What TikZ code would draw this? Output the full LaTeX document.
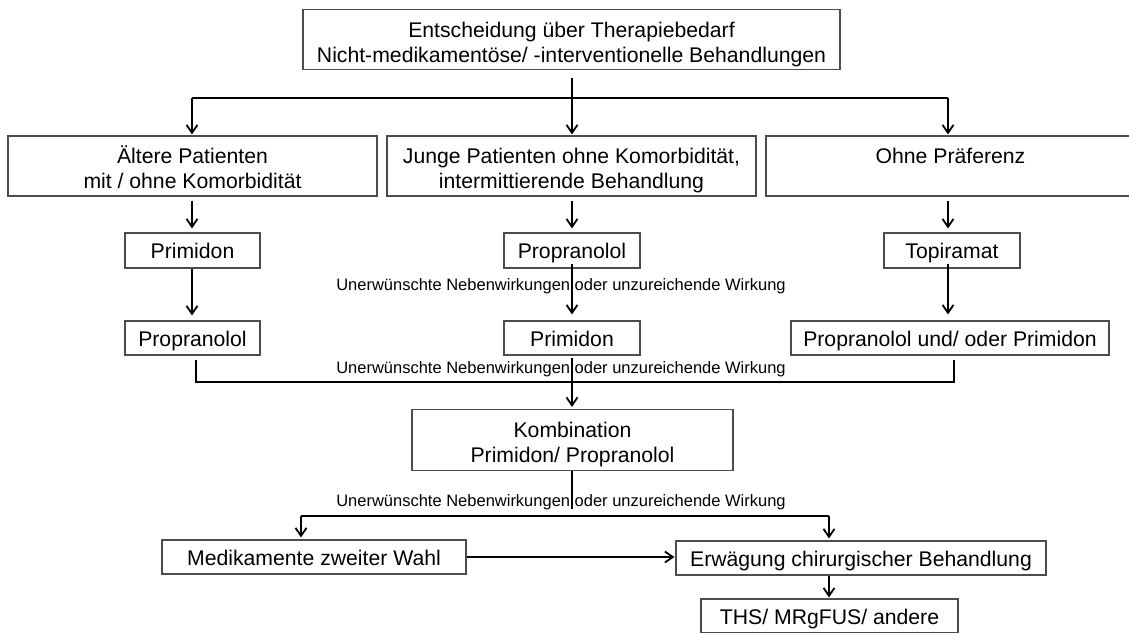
\documentclass[tikz,border=0pt]{standalone}
\usepackage{fontspec}
\setmainfont{Liberation Sans}
\usetikzlibrary{arrows.meta}
\newcommand\upstrut{\rule{0pt}{25.5pt}}
\newcommand\dnstrut{\rule[-5pt]{0pt}{5pt}}
\begin{document}
\begin{tikzpicture}[x=1pt,y=-1pt,
  box/.style={draw=black!70,line width=1.1pt,inner sep=0pt,align=center,
    font=\fontsize{21.2}{25}\selectfont,text=black},
  one/.style={text height=16.5pt,text depth=0pt},
  arr/.style={line width=2pt,-{Straight Barb[length=8pt,width=11pt,line width=1.8pt]}},
  ln/.style={line width=2pt},
  lbl/.style={font=\fontsize{16.5}{18}\selectfont,inner sep=0pt}]
\useasboundingbox[fill=white] (0,0) rectangle (1129,632);
% boxes
\node[box,minimum width=537pt,minimum height=60pt] (top) at (571.5,39.5)
  {\upstrut Entscheidung über Therapiebedarf\\Nicht-medikamentöse/ -interventionelle Behandlungen\dnstrut};
\node[box,minimum width=369pt,minimum height=60pt] (ra) at (192.5,166)
  {\upstrut Ältere Patienten\\mit / ohne Komorbidität\dnstrut};
\node[box,minimum width=369pt,minimum height=60pt] (rb) at (571.5,166)
  {\upstrut Junge Patienten ohne Komorbidität,\\intermittierende Behandlung\dnstrut};
\node[box,minimum width=369pt,minimum height=60pt] (rc) at (950.5,166)
  {\upstrut Ohne Präferenz\\\dnstrut};
\node[box,one,minimum width=135pt,minimum height=35pt] (pa) at (192.5,250.5) {Primidon};
\node[box,one,minimum width=136pt,minimum height=35pt] (pb) at (572,250.5) {Propranolol};
\node[box,one,minimum width=136pt,minimum height=35pt] (pc) at (952,250.5) {Topiramat};
\node[box,one,minimum width=135pt,minimum height=34pt] (qa) at (192.5,338) {Propranolol};
\node[box,one,minimum width=136pt,minimum height=34pt] (qb) at (572,338) {Primidon};
\node[box,one,minimum width=318pt,minimum height=34pt] (qc) at (950,338) {Propranolol und/ oder Primidon};
\node[box,minimum width=321pt,minimum height=61pt] (ko) at (572.5,440)
  {\upstrut Kombination\\Primidon/ Propranolol\dnstrut};
\node[box,one,minimum width=304pt,minimum height=34pt] (me) at (314,557) {Medikamente zweiter Wahl};
\node[box,one,minimum width=370pt,minimum height=34pt] (er) at (861,558) {Erwägung chirurgischer Behandlung};
\node[box,one,minimum width=257pt,minimum height=34pt] (th) at (829.5,616) {THS/ MRgFUS/ andere};
% labels
\node[lbl] (l1) at (561,286) {Unerwünschte Nebenwirkungen oder unzureichende Wirkung};
\node[lbl] (l2) at (561,369) {Unerwünschte Nebenwirkungen oder unzureichende Wirkung};
\node[lbl] (l3) at (561,502) {Unerwünschte Nebenwirkungen oder unzureichende Wirkung};
% coordinates
\coordinate (j1) at (572,98);
\coordinate (c1) at (192,98);
\coordinate (c3) at (948,98);
\coordinate (j2a) at (196,382);
\coordinate (j3) at (572,516);
\coordinate (k3) at (572,509);
\coordinate (m3) at (301,516);
\coordinate (e3) at (829,516);
% connectors
\draw[arr,shorten <=8pt,shorten >=1pt] (top.south -| j1) -- (rb.north -| j1);
\draw[ln] (c1) -- (c3);
\draw[arr,shorten >=1pt] (c1) -- (c1 |- ra.north);
\draw[arr,shorten >=1pt] (c3) -- (c3 |- rc.north);
\draw[arr,shorten <=4pt,shorten >=4pt] (ra.south -| c1) -- (pa.north -| c1);
\draw[arr,shorten <=4pt,shorten >=4pt] (rb.south -| j1) -- (pb.north -| j1);
\draw[arr,shorten <=4pt,shorten >=4pt] (rc.south -| c3) -- (pc.north -| c3);
\draw[arr,shorten >=5pt] (pa.south -| c1) -- (qa.north -| c1);
\draw[arr,shorten <=-5pt,shorten >=6pt] (pb.south -| j1) -- (qb.north -| j1);
\draw[arr,shorten <=-5pt,shorten >=6pt] (pc.south -| c3) -- (qc.north -| c3);
\draw[ln] ([xshift=3.5pt,yshift=-4pt]qa.south) |- (j2a -| j1);
\draw[ln] ([xshift=4pt,yshift=-4pt]qc.south) |- (j2a -| j1);
\draw[arr,shorten <=2pt,shorten >=2pt] (qb.south -| j1) -- (ko.north -| j1);
\draw[ln] (ko.south -| j1) -- (k3);
\draw[ln] (m3) -- (e3);
\draw[arr,shorten >=2pt] (m3) -- (m3 |- me.north);
\draw[arr,shorten >=2pt] (e3) -- (e3 |- er.north);
\draw[arr,shorten >=1pt] (me.east) -- (me.east -| er.west);
\draw[arr,shorten >=1pt] (er.south -| e3) -- (th.north -| e3);
\end{tikzpicture}
\end{document}
